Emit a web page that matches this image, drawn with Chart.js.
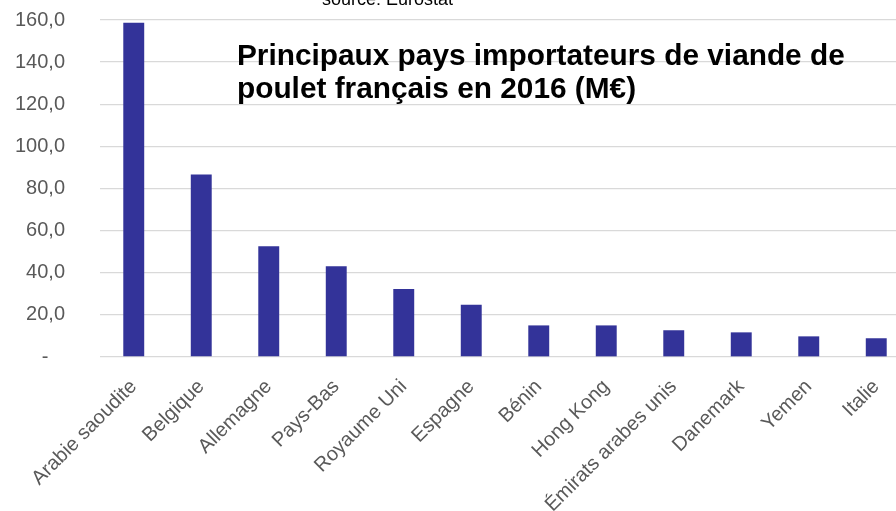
<!DOCTYPE html>
<html lang="fr">

<head>
  <meta charset="UTF-8" />
  <title>Principaux pays importateurs de viande de poulet français en 2016</title>
  <script src="https://cdn.jsdelivr.net/npm/chart.js"></script>
  <style>
    body {
      margin: 0;
      background: white;
      overflow: hidden;
    }

    .wrap {
      width: 912px;
      height: 511px;
    }
  </style>
</head>

<body>
  <div class="wrap">
    <canvas id="importChart"></canvas>
  </div>

  <script>
    // valeurs (M€)
    const countries = ["Arabie saoudite", "Belgique", "Allemagne", "Pays-Bas", "Royaume Uni", "Espagne",
      "Bénin", "Hong Kong", "Émirats arabes unis", "Danemark", "Yemen", "Italie"];
    const imports = [158.7, 86.7, 52.6, 43.1, 32.3, 24.8, 15.0, 15.0, 12.7, 11.7, 9.8, 8.9];

    const titleLines = ["Principaux pays importateurs de viande de", "poulet français en 2016 (M€)"];
    const sourceText = "source: Eurostat";

    const FONT = '"Liberation Sans", Arial, sans-serif';

    // titre et source dessinés dans la zone du graphique
    const textPlugin = {
      id: "texts",
      afterDraw(chart) {
        const ctx = chart.ctx;
        ctx.save();
        ctx.fillStyle = "#000";
        ctx.textAlign = "left";
        ctx.textBaseline = "alphabetic";
        ctx.font = "18px " + FONT;
        ctx.fillText(sourceText, 322, 5);
        ctx.font = "bold 29.8px " + FONT;
        ctx.fillText(titleLines[0], 237, 65);
        ctx.fillText(titleLines[1], 237, 98);
        ctx.restore();
      }
    };

    const ctx = document.getElementById("importChart").getContext("2d");
    new Chart(ctx, {
      type: "bar",
      data: {
        labels: countries,
        datasets: [{
          data: imports,
          backgroundColor: "#333399",
          borderWidth: 0,
          barPercentage: 0.31,
          categoryPercentage: 1
        }]
      },
      options: {
        responsive: true,
        maintainAspectRatio: false,
        animation: false,
        layout: {
          padding: { top: 20, right: 2, left: 0, bottom: 0 }
        },
        plugins: {
          legend: { display: false },
          tooltip: { enabled: false }
        },
        scales: {
          x: {
            grid: { display: false },
            border: { display: false },
            ticks: {
              color: "#595959",
              font: { family: FONT, size: 20 },
              maxRotation: 45,
              minRotation: 45,
              autoSkip: false,
              padding: 10
            },
            afterFit(scale) {
              scale.height = 154;
            }
          },
          y: {
            min: 0,
            max: 160,
            grid: {
              color: "#d9d9d9",
              lineWidth: 1.3,
              drawTicks: false
            },
            border: { display: false },
            ticks: {
              stepSize: 20,
              color: "#595959",
              font: { family: FONT, size: 20 },
              padding: 35,
              callback: v => v === 0 ? "-   " : v.toFixed(1).replace(".", ",")
            },
            afterFit(scale) {
              // tick padding would otherwise push the plot down
              scale.width = 100;
              scale.paddingTop = 0;
              scale.paddingBottom = 0;
            }
          }
        }
      },
      plugins: [textPlugin]
    });
  </script>
</body>

</html>
